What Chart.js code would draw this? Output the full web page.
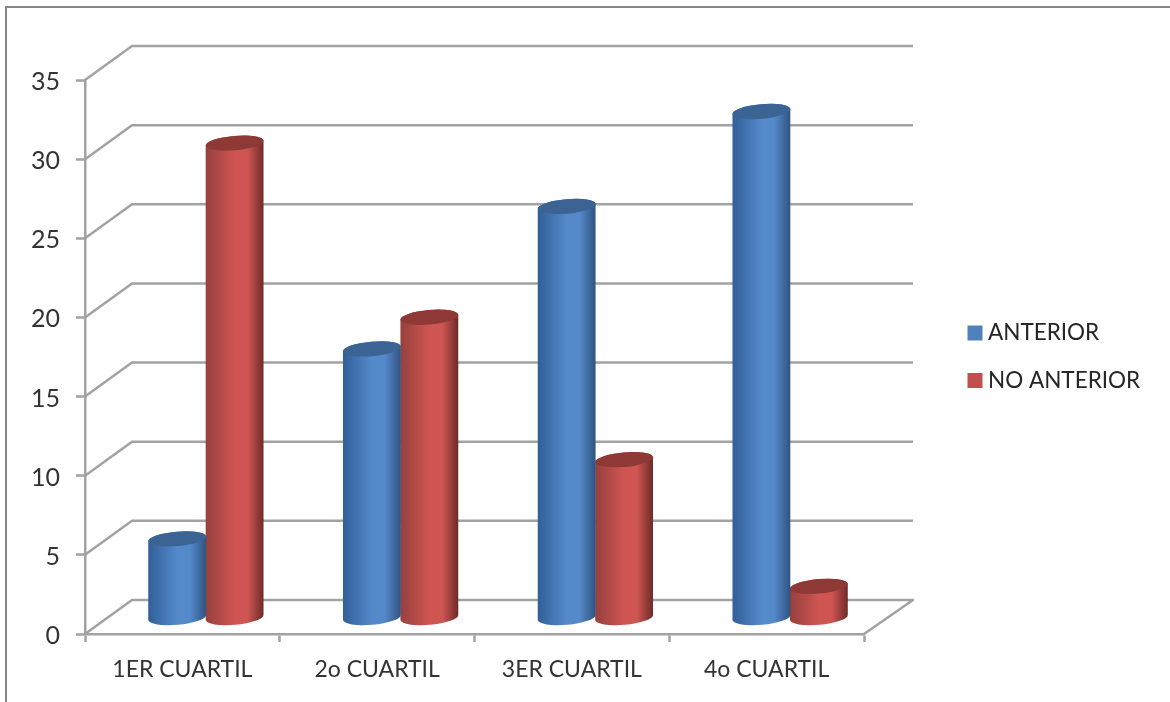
<!DOCTYPE html>
<html>
<head>
<meta charset="utf-8">
<style>
  html, body { margin: 0; padding: 0; background: #fff; overflow: hidden; }
  #frame { position: absolute; left: 5px; top: 6px; width: 1170px; height: 702px;
           border-left: 2px solid #868686; border-top: 2px solid #868686; }
  #wrap { position: absolute; left: 0; top: 0; width: 1170px; height: 702px; }
</style>
<script src="https://cdn.jsdelivr.net/npm/chart.js@4/dist/chart.umd.js"></script>
</head>
<body>
<div id="frame"></div>
<div id="wrap"><canvas id="c" width="1170" height="702"></canvas></div>
<script>
const categories = ['1ER CUARTIL', '2o CUARTIL', '3ER CUARTIL', '4o CUARTIL'];
const anterior = [5, 17, 26, 32];
const noAnterior = [30, 19, 10, 2];

const AXIS_COLOR = '#a2a2a2';
const TEXT_COLOR = '#333333';
const FONT = 'Lato, Carlito, sans-serif';

// Oblique offset of the back wall relative to the front plane
const DEPTH_X = 47;
const DEPTH_Y = 34;
// Offset of the cylinders from the front plane, towards the back wall
const BAR_SHIFT_X = 23.5;
const BAR_SHIFT_Y = 16;
const CAP_RATIO = 0.25;
const CAP_TILT = -5 * Math.PI / 180;

const shades = {
  '#4f81bd': { edgeL: '#315f97', mid: '#5489ca', edgeR: '#2f5380', cap: '#3b6494' },
  '#c0504d': { edgeL: '#96403d', mid: '#cf5552', edgeR: '#6d2b29', cap: '#8f3937' }
};

// Bars are painted as tilted cylinders instead of flat rectangles
Chart.BarElement.prototype.draw = function (ctx) {
  const { x, y, base, width } = this.getProps(['x', 'y', 'base', 'width'], false);
  const shade = shades[this.options.backgroundColor];
  const cx = x + BAR_SHIFT_X;
  const top = y - BAR_SHIFT_Y;
  const bottom = base - BAR_SHIFT_Y;
  const rx = width / 2 + 0.3;
  const ry = rx * CAP_RATIO;

  const g = ctx.createLinearGradient(cx - rx, 0, cx + rx, 0);
  g.addColorStop(0, shade.edgeL);
  g.addColorStop(0.5, shade.mid);
  g.addColorStop(0.72, shade.mid);
  g.addColorStop(1, shade.edgeR);

  ctx.save();
  ctx.beginPath();
  ctx.ellipse(cx, bottom, rx, ry, CAP_TILT, Math.PI, 0, true);
  ctx.ellipse(cx, top, rx, ry, CAP_TILT, 0, Math.PI, true);
  ctx.closePath();
  ctx.fillStyle = g;
  ctx.fill();

  ctx.beginPath();
  ctx.ellipse(cx, top, rx, ry, CAP_TILT, 0, Math.PI * 2);
  ctx.fillStyle = shade.cap;
  ctx.fill();
  ctx.restore();
};

// Back wall gridlines, their oblique connectors and the floor outline
const wallPlugin = {
  id: 'wall',
  beforeDatasetsDraw(chart) {
    const { ctx, scales: { y }, chartArea: { left, right, bottom } } = chart;
    ctx.save();
    ctx.strokeStyle = AXIS_COLOR;
    ctx.lineWidth = 2.5;
    ctx.lineJoin = 'round';
    y.ticks.forEach(t => {
      const py = y.getPixelForValue(t.value);
      ctx.beginPath();
      ctx.moveTo(left, py);
      ctx.lineTo(left + DEPTH_X, py - DEPTH_Y);
      ctx.lineTo(right + DEPTH_X + 2, py - DEPTH_Y);
      if (t.value === 0) ctx.lineTo(right, bottom);
      ctx.stroke();
    });
    ctx.restore();
  }
};

// Series key to the right of the plot
const keyPlugin = {
  id: 'key',
  afterDraw(chart) {
    const { ctx } = chart;
    ctx.save();
    ctx.textBaseline = 'middle';
    ctx.textAlign = 'left';
    ctx.font = '22.5px ' + FONT;
    chart.data.datasets.forEach((ds, i) => {
      const rowY = 333 + i * 47.5;
      ctx.fillStyle = ds.backgroundColor;
      ctx.fillRect(967.5, rowY - 7.5, 15, 15);
      ctx.fillStyle = '#262626';
      ctx.fillText(ds.label, 988, rowY);
    });
    ctx.restore();
  }
};

new Chart(document.getElementById('c'), {
  type: 'bar',
  plugins: [wallPlugin, keyPlugin],
  data: {
    labels: categories,
    datasets: [
      { label: 'ANTERIOR', data: anterior, backgroundColor: '#4f81bd' },
      { label: 'NO ANTERIOR', data: noAnterior, backgroundColor: '#c0504d' }
    ]
  },
  options: {
    responsive: false,
    animation: false,
    categoryPercentage: 0.59,
    barPercentage: 1,
    layout: { padding: { top: 80, left: 0, right: 306, bottom: 0 } },
    plugins: {
      tooltip: { enabled: false },
      title: { display: false },
      legend: { display: false }
    },
    scales: {
      x: {
        grid: { drawOnChartArea: false, tickLength: 8, tickColor: AXIS_COLOR, tickWidth: 2.5, offset: true },
        border: { color: AXIS_COLOR, width: 2.5 },
        ticks: { color: TEXT_COLOR, padding: 14, font: { family: FONT, size: 23 }, maxRotation: 0 },
        afterFit(s) { s.height = 68; }
      },
      y: {
        min: 0, max: 35,
        grid: { drawOnChartArea: false, tickLength: 9, tickColor: AXIS_COLOR, tickWidth: 2.5 },
        border: { color: AXIS_COLOR, width: 2.5 },
        ticks: { stepSize: 5, color: TEXT_COLOR, padding: 16, labelOffset: 2, font: { family: FONT, size: 25 } },
        afterFit(s) { s.width = 85; }
      }
    }
  }
});
</script>
</body>
</html>
